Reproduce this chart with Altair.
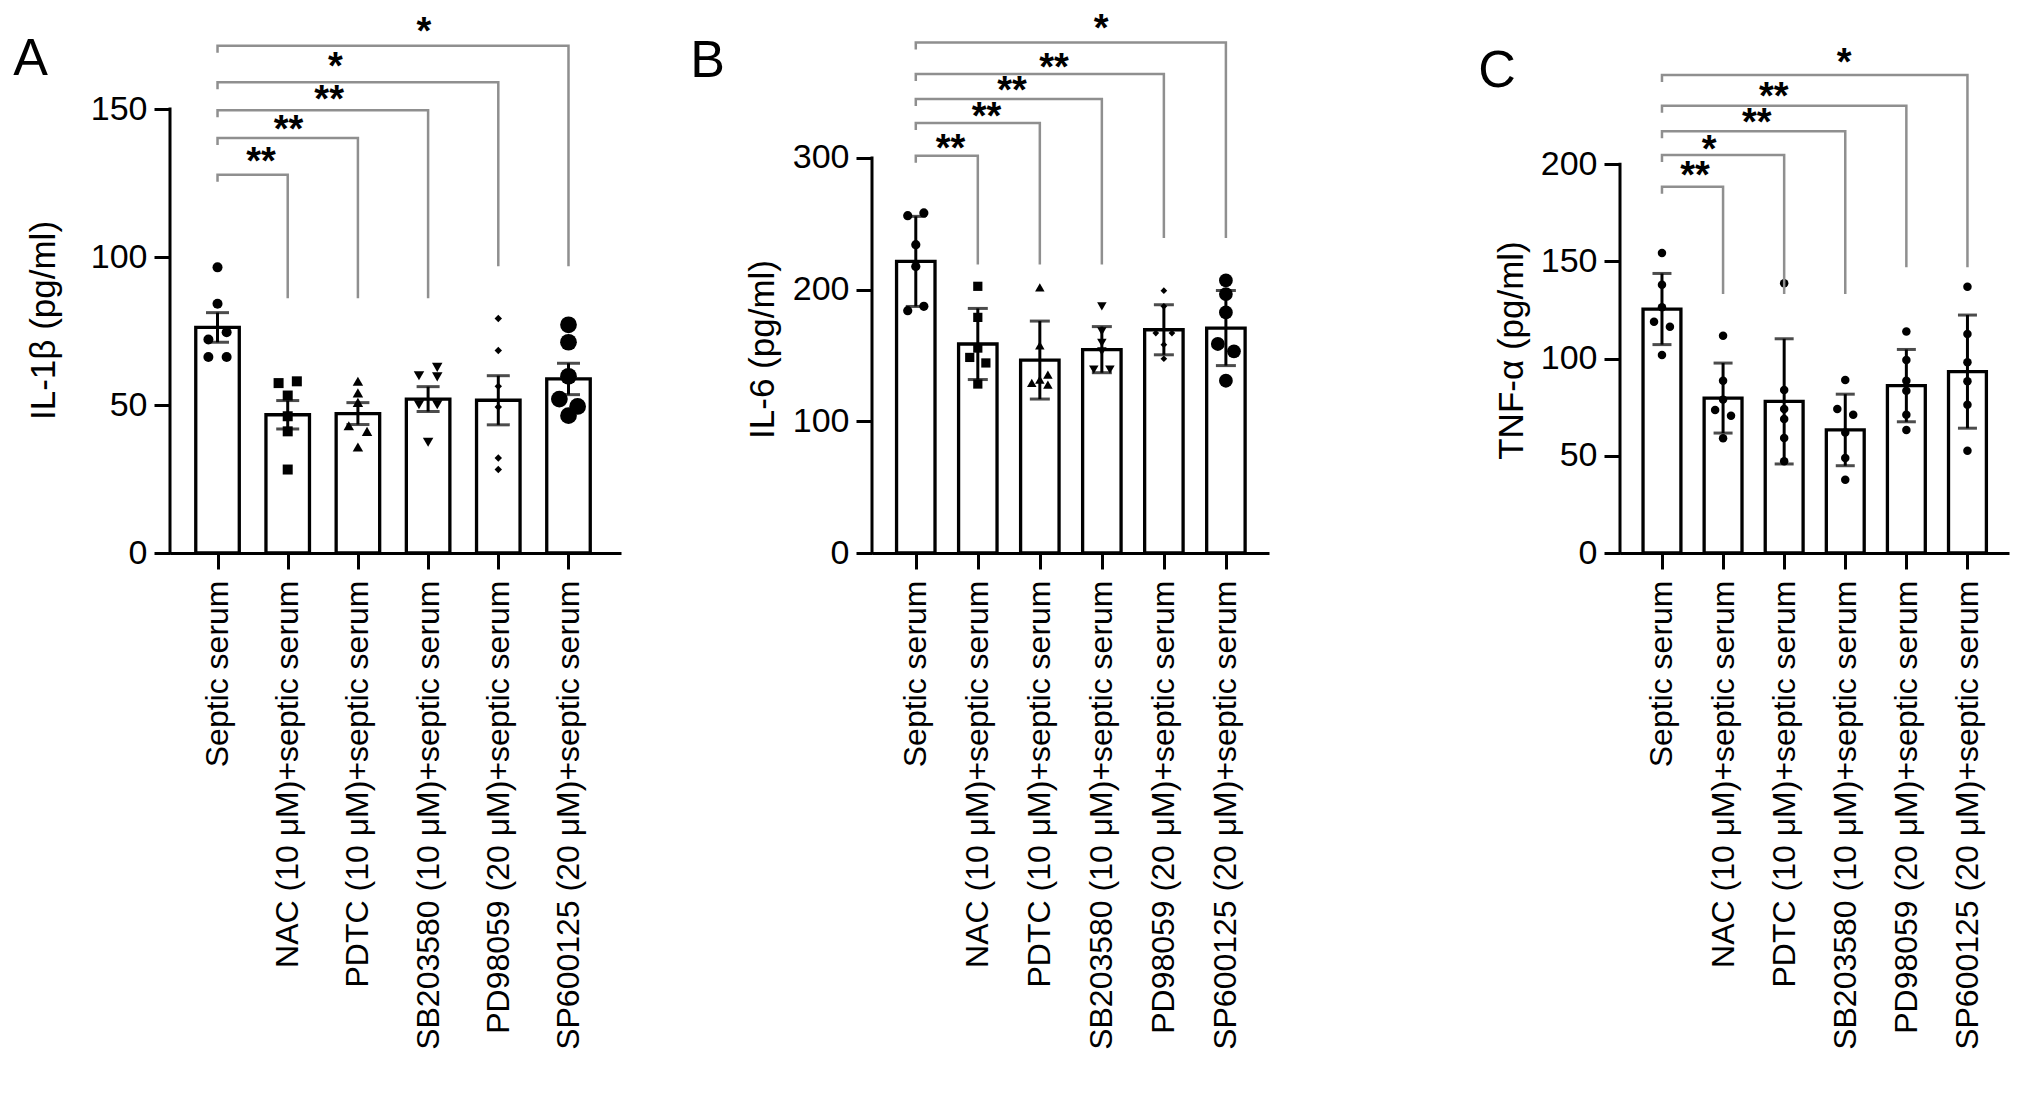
import json
import altair as alt
import pandas as pd

GROUPS = [
    "Septic serum",
    "NAC (10 μM)+septic serum",
    "PDTC (10 μM)+septic serum",
    "SB203580 (10 μM)+septic serum",
    "PD98059 (20 μM)+septic serum",
    "SP600125 (20 μM)+septic serum",
]

# ---------------- Panel A: IL-1β (mean ± SEM) ----------------
IL1B_MEAN = [76.2, 46.7, 47.1, 52.0, 51.6, 58.8]
IL1B_ERR = [5.0, 4.8, 3.7, 4.2, 8.3, 5.3]
IL1B_POINTS = [
    [96.5, 84.2, 74.6, 72.1, 66.2, 66.2],
    [58.0, 57.4, 53.2, 46.2, 41.1, 28.2],
    [58.0, 54.1, 50.9, 43.0, 41.1, 35.8],
    [62.7, 59.9, 59.5, 50.1, 50.1, 37.4],
    [79.2, 68.4, 56.3, 49.3, 32.1, 28.2],
    [77.1, 71.2, 59.7, 52.0, 49.5, 46.4],
]
IL1B_JITTER = [
    [0, 0, 1, -1, -1, 1],
    [1, -1, 0, 0, 0, 0],
    [0, 0, 0, -1, 1, 0],
    [1, -1, 1, -1, 1, 0],
    [0, 0, 0, 0, 0, 0],
    [0, 0, 0, -1, 1, 0],
]
IL1B_BR_END = [1, 2, 3, 4, 5]
IL1B_BR_LEVEL = [127.8, 140.2, 149.6, 159.0, 171.4]
IL1B_BR_BOTTOM = [86.1, 86.1, 86.1, 96.9, 96.9]
IL1B_STARS = ["**", "**", "**", "*", "*"]
IL1B_STAR_X = [0.62, 1.01, 1.59, 1.68, 2.94]
IL1B_STAR_Y = [133.4, 144.4, 154.5, 165.5, 177.4]
IL1B_TICKS = [0, 50, 100, 150]

# ---------------- Panel B: IL-6 (mean ± SD) ----------------
IL6_MEAN = [221.4, 158.7, 146.5, 154.4, 169.5, 170.8]
IL6_ERR = [34.2, 27.0, 29.6, 17.5, 19.0, 28.5]
IL6_POINTS = [
    [258.2, 256.1, 234.1, 217.6, 187.3, 184.0],
    [202.5, 178.9, 155.6, 148.5, 144.3, 128.3],
    [201.7, 157.6, 135.4, 131.6, 129.1, 127.8],
    [187.3, 168.3, 159.5, 153.1, 139.2, 139.2],
    [199.2, 187.3, 167.0, 167.0, 158.2, 147.5],
    [207.0, 196.6, 182.7, 158.7, 153.1, 130.8],
]
IL6_JITTER = [
    [1, -1, 0, 0, 1, -1],
    [0, 0, 0, -1, 1, 0],
    [0, 0, 1, 0, -1, 1],
    [0, 0, 0, 0, -1, 1],
    [0, 0, -1, 1, 0, 0],
    [0, 0, 0, -1, 1, 0],
]
IL6_BR_END = [1, 2, 3, 4, 5]
IL6_BR_LEVEL = [301.7, 326.5, 344.7, 363.7, 387.7]
IL6_BR_BOTTOM = [219.0, 219.0, 219.0, 239.2, 239.2]
IL6_STARS = ["**", "**", "**", "**", "*"]
IL6_STAR_X = [0.56, 1.14, 1.55, 2.23, 2.99]
IL6_STAR_Y = [310.0, 334.0, 353.5, 371.3, 401.0]
IL6_TICKS = [0, 100, 200, 300]

# ---------------- Panel C: TNF-α (mean ± SD) ----------------
TNF_MEAN = [125.5, 79.7, 78.0, 63.3, 86.1, 93.3]
TNF_ERR = [18.3, 18.0, 32.2, 18.4, 18.6, 29.1]
TNF_POINTS = [
    [154.3, 138.0, 126.4, 119.0, 116.4, 101.9],
    [111.8, 88.6, 78.9, 73.6, 70.6, 59.0],
    [138.7, 83.8, 74.1, 68.9, 59.2, 47.2],
    [89.0, 74.1, 71.1, 62.0, 48.9, 37.7],
    [114.0, 99.3, 88.6, 83.5, 71.1, 63.3],
    [137.0, 112.7, 98.1, 88.3, 76.3, 52.6],
]
TNF_JITTER = [
    [0, 0, 0, -1, 1, 0],
    [0, 0, 0, -1, 1, 0],
    [0, 0, 0, 0, 0, 0],
    [0, -1, 1, 0, 0, 0],
    [0, 0, 0, 0, 0, 0],
    [0, 0, 0, 0, 0, 0],
]
TNF_BR_END = [1, 2, 3, 4, 5]
TNF_BR_LEVEL = [188.4, 204.7, 216.9, 230.1, 245.9]
TNF_BR_BOTTOM = [133.2, 133.2, 133.2, 147.0, 147.0]
TNF_STARS = ["**", "*", "**", "**", "*"]
TNF_STAR_X = [0.54, 0.77, 1.55, 1.83, 2.98]
TNF_STAR_Y = [195.8, 209.5, 223.3, 236.5, 254.1]
TNF_TICKS = [0, 50, 100, 150, 200]

# ---------------- styling ----------------
FONT = "Liberation Sans"
H = 444
BRACKET_COLOR = "#8f8f8f"


def build_panel(cfg):
    n = len(GROUPS)
    idx = list(range(n))
    bars = pd.DataFrame({"idx": idx, "mean": cfg["mean"], "err": cfg["err"]})

    rows = []
    for g, (vals, jit) in enumerate(zip(cfg["points"], cfg["jitter"])):
        for v, j in zip(vals, jit):
            rows.append({"idx": g, "value": v, "jit": j})
    pts = pd.DataFrame(rows)

    ytop = H / cfg["ppu"]
    drop = 7.0 / cfg["ppu"]
    brows = []
    for k, (e, lv, b) in enumerate(zip(cfg["br_end"], cfg["br_level"], cfg["br_bottom"])):
        for o, (xx, yy) in enumerate([(0, lv - drop), (0, lv), (e, lv), (e, b)]):
            brows.append({"br": k, "ord": o, "x": xx, "y": yy})
    brd = pd.DataFrame(brows)
    stars = pd.DataFrame({"x": cfg["star_x"], "y": cfg["star_y"], "t": cfg["stars"]})
    yline = pd.DataFrame({"x": [cfg["xdom"][0]], "lo": [0], "hi": [cfg["ticks"][-1]]})

    xs = alt.Scale(domain=cfg["xdom"], nice=False, zero=False)
    ys = alt.Scale(domain=[0, ytop], nice=False, zero=False)

    label_expr = json.dumps(GROUPS, ensure_ascii=False) + "[datum.value]"
    xaxis = alt.Axis(
        values=idx, labelExpr=label_expr, title=None, labelAngle=270,
        labelAlign="right", labelBaseline="middle", labelFontSize=32,
        labelFont=FONT, labelColor="black", labelPadding=11, labelLimit=1000,
        labelOverlap=False, labelFlush=False, tickSize=16, tickWidth=3,
        tickColor="black", domainColor="black", domainWidth=3, grid=False,
    )
    yaxis = alt.Axis(
        values=cfg["ticks"], title=cfg["ytitle"], domain=False, grid=False,
        tickSize=16, tickWidth=3, tickColor="black", labelFontSize=34,
        labelFont=FONT, labelColor="black", labelPadding=7, titleFontSize=35,
        titleFont=FONT, titleFontWeight="normal", titleColor="black",
        titlePadding=cfg["tpad"], titleY=cfg["title_y"],
    )

    def X(field):
        return alt.X(field, scale=xs, axis=xaxis)

    def Y(field):
        return alt.Y(field, scale=ys, axis=yaxis)

    bar = alt.Chart(bars).transform_calculate(
        x1="datum.idx - 0.31", x2="datum.idx + 0.31"
    ).mark_bar(fill="white", stroke="black", strokeWidth=3.3).encode(
        x=X("x1:Q"), x2="x2:Q", y=Y("mean:Q"), y2=alt.datum(0),
    )
    axis_line = alt.Chart(yline).mark_rule(color="black", strokeWidth=3, strokeCap="square").encode(
        x=X("x:Q"), y=Y("lo:Q"), y2="hi:Q",
    )
    err = alt.Chart(bars).transform_calculate(
        lo="datum.mean - datum.err", hi="datum.mean + datum.err"
    ).mark_rule(color="black", strokeWidth=3).encode(
        x=X("idx:Q"), y=Y("lo:Q"), y2="hi:Q",
    )
    caps = alt.Chart(bars).transform_calculate(
        lo="datum.mean - datum.err", hi="datum.mean + datum.err"
    ).transform_fold(["lo", "hi"], as_=["k", "v"]).mark_tick(
        color="black", orient="horizontal", size=cfg["cap"], thickness=3
    ).encode(x=X("idx:Q"), y=Y("v:Q"))
    shapes_expr = json.dumps(cfg["shapes"]) + "[datum.idx]"
    sizes_expr = json.dumps(cfg["sizes"]) + "[datum.idx]"
    pt = alt.Chart(pts).transform_calculate(
        px="datum.idx + datum.jit * 0.13", shp=shapes_expr, sz=sizes_expr
    ).mark_point(filled=True, opacity=1, color="black", strokeWidth=0).encode(
        x=X("px:Q"), y=Y("value:Q"),
        shape=alt.Shape("shp:N", scale=None, legend=None),
        size=alt.Size("sz:Q", scale=None, legend=None),
    )
    brk = alt.Chart(brd).mark_line(color=BRACKET_COLOR, strokeWidth=2.5, strokeJoin="miter").encode(
        x=X("x:Q"), y=Y("y:Q"), detail="br:N", order="ord:Q",
    )
    st = alt.Chart(stars).mark_text(
        font=FONT, fontSize=38, fontWeight="bold", color="black",
        baseline="alphabetic", align="center", dy=16,
    ).encode(x=X("x:Q"), y=Y("y:Q"), text="t:N")

    return alt.layer(bar, axis_line, err, caps, pt, brk, st).properties(
        width=cfg["width"], height=H,
        title=alt.TitleParams(
            text=cfg["letter"], anchor="start", frame="bounds", fontSize=52,
            font=FONT, fontWeight="normal", color="black",
            dx=cfg["ldx"], dy=cfg["ldy"],
        ),
    )


SHAPES_AB = ["circle", "square", "triangle-up", "triangle-down", "diamond", "circle"]

panel_a = build_panel(dict(
    letter="A", ytitle="IL-1β (pg/ml)", mean=IL1B_MEAN, err=IL1B_ERR,
    points=IL1B_POINTS, jitter=IL1B_JITTER, br_end=IL1B_BR_END,
    br_level=IL1B_BR_LEVEL, br_bottom=IL1B_BR_BOTTOM, stars=IL1B_STARS,
    star_x=IL1B_STAR_X, star_y=IL1B_STAR_Y, ticks=IL1B_TICKS, ppu=2.96,
    xdom=[-0.677, 5.748], width=451, shapes=SHAPES_AB,
    sizes=[100, 100, 110, 110, 55, 280], cap=23, tpad=29, title_y=211,
    ldx=-13, ldy=76,
))
panel_b = build_panel(dict(
    letter="B", ytitle="IL-6 (pg/ml)", mean=IL6_MEAN, err=IL6_ERR,
    points=IL6_POINTS, jitter=IL6_JITTER, br_end=IL6_BR_END,
    br_level=IL6_BR_LEVEL, br_bottom=IL6_BR_BOTTOM, stars=IL6_STARS,
    star_x=IL6_STAR_X, star_y=IL6_STAR_Y, ticks=IL6_TICKS, ppu=1.317,
    xdom=[-0.706, 5.695], width=397, shapes=SHAPES_AB,
    sizes=[85, 85, 90, 90, 45, 190], cap=20, tpad=12, title_y=240,
    ldx=-55, ldy=81,
))
panel_c = build_panel(dict(
    letter="C", ytitle="TNF-α (pg/ml)", mean=TNF_MEAN, err=TNF_ERR,
    points=TNF_POINTS, jitter=TNF_JITTER, br_end=TNF_BR_END,
    br_level=TNF_BR_LEVEL, br_bottom=TNF_BR_BOTTOM, stars=TNF_STARS,
    star_x=TNF_STAR_X, star_y=TNF_STAR_Y, ticks=TNF_TICKS, ppu=1.944,
    xdom=[-0.687, 5.68], width=389, shapes=["circle"] * 6,
    sizes=[72] * 6, cap=19, tpad=11, title_y=241,
    ldx=-16, ldy=57,
))

spacer = alt.Chart(pd.DataFrame({"s": [0]})).mark_point(opacity=0).encode(
    x=alt.X("s:Q", axis=None), y=alt.Y("s:Q", axis=None)
).properties(width=71, height=H)

chart = alt.hconcat(panel_a, panel_b, spacer, panel_c, spacing=69).properties(
    padding={"top": 2, "left": 5, "right": 5, "bottom": 5}
).configure(
    font=FONT, background="white"
).configure_view(stroke=None)

chart.save("out.html", embed_options={"renderer": "svg", "actions": False})
